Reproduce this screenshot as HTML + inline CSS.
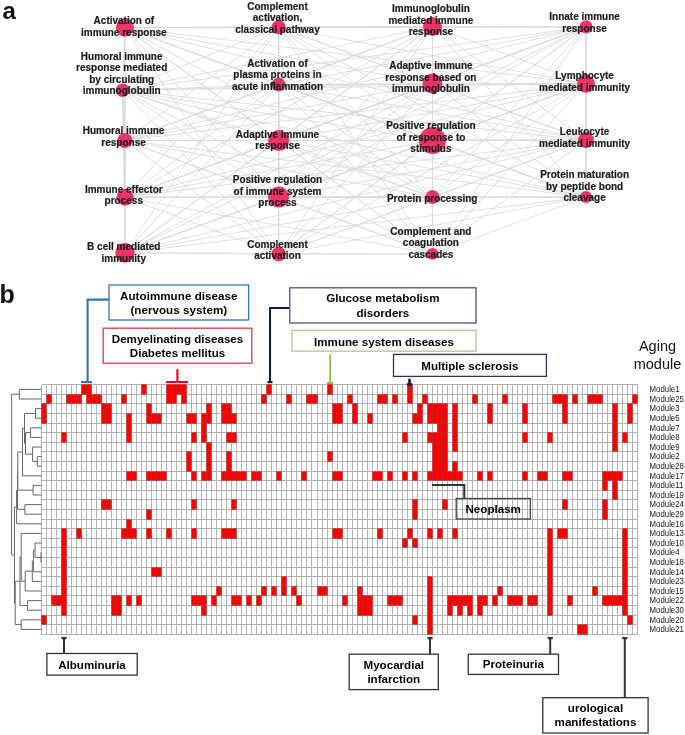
<!DOCTYPE html><html><head><meta charset="utf-8"><style>html,body{margin:0;padding:0;background:#fff;}svg{display:block;will-change:transform;}</style></head><body>
<svg width='685' height='735' viewBox='0 0 685 735' style='font-family:"Liberation Sans",sans-serif'>
<rect width="685" height="735" fill="#fff"/>
<g stroke="#d9d9d9" stroke-width="0.85" fill="none">
<line x1="124.9" y1="27.6" x2="122.6" y2="90.2"/>
<line x1="124.9" y1="27.6" x2="124.8" y2="140.5"/>
<line x1="124.9" y1="27.6" x2="125" y2="197.2"/>
<line x1="124.9" y1="27.6" x2="125" y2="252.8"/>
<line x1="124.9" y1="27.6" x2="278.6" y2="27.2"/>
<line x1="124.9" y1="27.6" x2="278.6" y2="84.6"/>
<line x1="124.9" y1="27.6" x2="278.6" y2="140.5"/>
<line x1="124.9" y1="27.6" x2="278.6" y2="197.1"/>
<line x1="124.9" y1="27.6" x2="278.6" y2="254.2"/>
<line x1="124.9" y1="27.6" x2="432.5" y2="26.6"/>
<line x1="124.9" y1="27.6" x2="432.5" y2="83.5"/>
<line x1="124.9" y1="27.6" x2="432.5" y2="140.5"/>
<line x1="124.9" y1="27.6" x2="432.5" y2="197.1"/>
<line x1="124.9" y1="27.6" x2="432.5" y2="253.8"/>
<line x1="124.9" y1="27.6" x2="586" y2="26.9"/>
<line x1="124.9" y1="27.6" x2="586" y2="83.8"/>
<line x1="124.9" y1="27.6" x2="586" y2="140.1"/>
<line x1="124.9" y1="27.6" x2="586" y2="197"/>
<line x1="122.6" y1="90.2" x2="124.8" y2="140.5"/>
<line x1="122.6" y1="90.2" x2="125" y2="197.2"/>
<line x1="122.6" y1="90.2" x2="125" y2="252.8"/>
<line x1="122.6" y1="90.2" x2="278.6" y2="27.2"/>
<line x1="122.6" y1="90.2" x2="278.6" y2="84.6"/>
<line x1="122.6" y1="90.2" x2="278.6" y2="140.5"/>
<line x1="122.6" y1="90.2" x2="278.6" y2="197.1"/>
<line x1="122.6" y1="90.2" x2="278.6" y2="254.2"/>
<line x1="122.6" y1="90.2" x2="432.5" y2="26.6"/>
<line x1="122.6" y1="90.2" x2="432.5" y2="83.5"/>
<line x1="122.6" y1="90.2" x2="432.5" y2="140.5"/>
<line x1="122.6" y1="90.2" x2="432.5" y2="197.1"/>
<line x1="122.6" y1="90.2" x2="432.5" y2="253.8"/>
<line x1="122.6" y1="90.2" x2="586" y2="26.9"/>
<line x1="122.6" y1="90.2" x2="586" y2="83.8"/>
<line x1="122.6" y1="90.2" x2="586" y2="140.1"/>
<line x1="122.6" y1="90.2" x2="586" y2="197"/>
<line x1="124.8" y1="140.5" x2="125" y2="197.2"/>
<line x1="124.8" y1="140.5" x2="125" y2="252.8"/>
<line x1="124.8" y1="140.5" x2="278.6" y2="27.2"/>
<line x1="124.8" y1="140.5" x2="278.6" y2="84.6"/>
<line x1="124.8" y1="140.5" x2="278.6" y2="140.5"/>
<line x1="124.8" y1="140.5" x2="278.6" y2="197.1"/>
<line x1="124.8" y1="140.5" x2="278.6" y2="254.2"/>
<line x1="124.8" y1="140.5" x2="432.5" y2="26.6"/>
<line x1="124.8" y1="140.5" x2="432.5" y2="83.5"/>
<line x1="124.8" y1="140.5" x2="432.5" y2="140.5"/>
<line x1="124.8" y1="140.5" x2="432.5" y2="197.1"/>
<line x1="124.8" y1="140.5" x2="432.5" y2="253.8"/>
<line x1="124.8" y1="140.5" x2="586" y2="26.9"/>
<line x1="124.8" y1="140.5" x2="586" y2="83.8"/>
<line x1="124.8" y1="140.5" x2="586" y2="140.1"/>
<line x1="124.8" y1="140.5" x2="586" y2="197"/>
<line x1="125" y1="197.2" x2="125" y2="252.8"/>
<line x1="125" y1="197.2" x2="278.6" y2="27.2"/>
<line x1="125" y1="197.2" x2="278.6" y2="84.6"/>
<line x1="125" y1="197.2" x2="278.6" y2="140.5"/>
<line x1="125" y1="197.2" x2="278.6" y2="197.1"/>
<line x1="125" y1="197.2" x2="278.6" y2="254.2"/>
<line x1="125" y1="197.2" x2="432.5" y2="26.6"/>
<line x1="125" y1="197.2" x2="432.5" y2="83.5"/>
<line x1="125" y1="197.2" x2="432.5" y2="140.5"/>
<line x1="125" y1="197.2" x2="432.5" y2="197.1"/>
<line x1="125" y1="197.2" x2="432.5" y2="253.8"/>
<line x1="125" y1="197.2" x2="586" y2="26.9"/>
<line x1="125" y1="197.2" x2="586" y2="83.8"/>
<line x1="125" y1="197.2" x2="586" y2="140.1"/>
<line x1="125" y1="197.2" x2="586" y2="197"/>
<line x1="125" y1="252.8" x2="278.6" y2="27.2"/>
<line x1="125" y1="252.8" x2="278.6" y2="84.6"/>
<line x1="125" y1="252.8" x2="278.6" y2="140.5"/>
<line x1="125" y1="252.8" x2="278.6" y2="197.1"/>
<line x1="125" y1="252.8" x2="278.6" y2="254.2"/>
<line x1="125" y1="252.8" x2="432.5" y2="26.6"/>
<line x1="125" y1="252.8" x2="432.5" y2="83.5"/>
<line x1="125" y1="252.8" x2="432.5" y2="140.5"/>
<line x1="125" y1="252.8" x2="432.5" y2="197.1"/>
<line x1="125" y1="252.8" x2="432.5" y2="253.8"/>
<line x1="125" y1="252.8" x2="586" y2="26.9"/>
<line x1="125" y1="252.8" x2="586" y2="83.8"/>
<line x1="125" y1="252.8" x2="586" y2="140.1"/>
<line x1="125" y1="252.8" x2="586" y2="197"/>
<line x1="278.6" y1="27.2" x2="278.6" y2="84.6"/>
<line x1="278.6" y1="27.2" x2="278.6" y2="140.5"/>
<line x1="278.6" y1="27.2" x2="278.6" y2="197.1"/>
<line x1="278.6" y1="27.2" x2="278.6" y2="254.2"/>
<line x1="278.6" y1="27.2" x2="432.5" y2="26.6"/>
<line x1="278.6" y1="27.2" x2="432.5" y2="83.5"/>
<line x1="278.6" y1="27.2" x2="432.5" y2="140.5"/>
<line x1="278.6" y1="27.2" x2="432.5" y2="197.1"/>
<line x1="278.6" y1="27.2" x2="432.5" y2="253.8"/>
<line x1="278.6" y1="27.2" x2="586" y2="26.9"/>
<line x1="278.6" y1="27.2" x2="586" y2="83.8"/>
<line x1="278.6" y1="27.2" x2="586" y2="140.1"/>
<line x1="278.6" y1="27.2" x2="586" y2="197"/>
<line x1="278.6" y1="84.6" x2="278.6" y2="140.5"/>
<line x1="278.6" y1="84.6" x2="278.6" y2="197.1"/>
<line x1="278.6" y1="84.6" x2="278.6" y2="254.2"/>
<line x1="278.6" y1="84.6" x2="432.5" y2="26.6"/>
<line x1="278.6" y1="84.6" x2="432.5" y2="83.5"/>
<line x1="278.6" y1="84.6" x2="432.5" y2="140.5"/>
<line x1="278.6" y1="84.6" x2="432.5" y2="197.1"/>
<line x1="278.6" y1="84.6" x2="432.5" y2="253.8"/>
<line x1="278.6" y1="84.6" x2="586" y2="26.9"/>
<line x1="278.6" y1="84.6" x2="586" y2="83.8"/>
<line x1="278.6" y1="84.6" x2="586" y2="140.1"/>
<line x1="278.6" y1="84.6" x2="586" y2="197"/>
<line x1="278.6" y1="140.5" x2="278.6" y2="197.1"/>
<line x1="278.6" y1="140.5" x2="278.6" y2="254.2"/>
<line x1="278.6" y1="140.5" x2="432.5" y2="26.6"/>
<line x1="278.6" y1="140.5" x2="432.5" y2="83.5"/>
<line x1="278.6" y1="140.5" x2="432.5" y2="140.5"/>
<line x1="278.6" y1="140.5" x2="432.5" y2="197.1"/>
<line x1="278.6" y1="140.5" x2="432.5" y2="253.8"/>
<line x1="278.6" y1="140.5" x2="586" y2="26.9"/>
<line x1="278.6" y1="140.5" x2="586" y2="83.8"/>
<line x1="278.6" y1="140.5" x2="586" y2="140.1"/>
<line x1="278.6" y1="140.5" x2="586" y2="197"/>
<line x1="278.6" y1="197.1" x2="278.6" y2="254.2"/>
<line x1="278.6" y1="197.1" x2="432.5" y2="26.6"/>
<line x1="278.6" y1="197.1" x2="432.5" y2="83.5"/>
<line x1="278.6" y1="197.1" x2="432.5" y2="140.5"/>
<line x1="278.6" y1="197.1" x2="432.5" y2="197.1"/>
<line x1="278.6" y1="197.1" x2="432.5" y2="253.8"/>
<line x1="278.6" y1="197.1" x2="586" y2="26.9"/>
<line x1="278.6" y1="197.1" x2="586" y2="83.8"/>
<line x1="278.6" y1="197.1" x2="586" y2="140.1"/>
<line x1="278.6" y1="197.1" x2="586" y2="197"/>
<line x1="278.6" y1="254.2" x2="432.5" y2="26.6"/>
<line x1="278.6" y1="254.2" x2="432.5" y2="83.5"/>
<line x1="278.6" y1="254.2" x2="432.5" y2="140.5"/>
<line x1="278.6" y1="254.2" x2="432.5" y2="197.1"/>
<line x1="278.6" y1="254.2" x2="432.5" y2="253.8"/>
<line x1="278.6" y1="254.2" x2="586" y2="26.9"/>
<line x1="278.6" y1="254.2" x2="586" y2="83.8"/>
<line x1="278.6" y1="254.2" x2="586" y2="140.1"/>
<line x1="278.6" y1="254.2" x2="586" y2="197"/>
<line x1="432.5" y1="26.6" x2="432.5" y2="83.5"/>
<line x1="432.5" y1="26.6" x2="432.5" y2="140.5"/>
<line x1="432.5" y1="26.6" x2="432.5" y2="197.1"/>
<line x1="432.5" y1="26.6" x2="432.5" y2="253.8"/>
<line x1="432.5" y1="26.6" x2="586" y2="26.9"/>
<line x1="432.5" y1="26.6" x2="586" y2="83.8"/>
<line x1="432.5" y1="26.6" x2="586" y2="140.1"/>
<line x1="432.5" y1="26.6" x2="586" y2="197"/>
<line x1="432.5" y1="83.5" x2="432.5" y2="140.5"/>
<line x1="432.5" y1="83.5" x2="432.5" y2="197.1"/>
<line x1="432.5" y1="83.5" x2="432.5" y2="253.8"/>
<line x1="432.5" y1="83.5" x2="586" y2="26.9"/>
<line x1="432.5" y1="83.5" x2="586" y2="83.8"/>
<line x1="432.5" y1="83.5" x2="586" y2="140.1"/>
<line x1="432.5" y1="83.5" x2="586" y2="197"/>
<line x1="432.5" y1="140.5" x2="432.5" y2="197.1"/>
<line x1="432.5" y1="140.5" x2="432.5" y2="253.8"/>
<line x1="432.5" y1="140.5" x2="586" y2="26.9"/>
<line x1="432.5" y1="140.5" x2="586" y2="83.8"/>
<line x1="432.5" y1="140.5" x2="586" y2="140.1"/>
<line x1="432.5" y1="140.5" x2="586" y2="197"/>
<line x1="432.5" y1="197.1" x2="432.5" y2="253.8"/>
<line x1="432.5" y1="197.1" x2="586" y2="26.9"/>
<line x1="432.5" y1="197.1" x2="586" y2="83.8"/>
<line x1="432.5" y1="197.1" x2="586" y2="140.1"/>
<line x1="432.5" y1="197.1" x2="586" y2="197"/>
<line x1="432.5" y1="253.8" x2="586" y2="26.9"/>
<line x1="432.5" y1="253.8" x2="586" y2="83.8"/>
<line x1="432.5" y1="253.8" x2="586" y2="140.1"/>
<line x1="432.5" y1="253.8" x2="586" y2="197"/>
<line x1="586" y1="26.9" x2="586" y2="83.8"/>
<line x1="586" y1="26.9" x2="586" y2="140.1"/>
<line x1="586" y1="26.9" x2="586" y2="197"/>
<line x1="586" y1="83.8" x2="586" y2="140.1"/>
<line x1="586" y1="83.8" x2="586" y2="197"/>
<line x1="586" y1="140.1" x2="586" y2="197"/>
</g>
<g fill="#ee3366">
<circle cx="124.9" cy="27.6" r="9.0"/>
<circle cx="122.6" cy="90.2" r="6.8"/>
<circle cx="124.8" cy="140.5" r="7.6"/>
<circle cx="125" cy="197.2" r="8.5"/>
<circle cx="125" cy="252.8" r="9.7"/>
<circle cx="278.6" cy="27.2" r="7"/>
<circle cx="278.6" cy="84.6" r="7"/>
<circle cx="278.6" cy="140.5" r="10.5"/>
<circle cx="278.6" cy="197.1" r="10.5"/>
<circle cx="278.6" cy="254.2" r="7.2"/>
<circle cx="432.5" cy="26.6" r="9.5"/>
<circle cx="432.5" cy="83.5" r="9.9"/>
<circle cx="432.5" cy="140.5" r="13.5"/>
<circle cx="432.5" cy="197.1" r="7"/>
<circle cx="432.5" cy="253.8" r="5.9"/>
<circle cx="586" cy="26.9" r="6.6"/>
<circle cx="586" cy="83.8" r="9"/>
<circle cx="586" cy="140.1" r="8"/>
<circle cx="586" cy="197" r="6"/>
</g>
<g font-size="10" font-weight="bold" fill="#1a1a1a" stroke="#1a1a1a" stroke-width="0.18" text-anchor="middle">
<text x="123.9" y="23.9">Activation of</text>
<text x="123.9" y="35.5">immune response</text>
<text x="121.7" y="59.6">Humoral immune</text>
<text x="121.7" y="71.2">response mediated</text>
<text x="121.7" y="82.8">by circulating</text>
<text x="121.7" y="94.4">immunoglobulin</text>
<text x="123.6" y="134.4">Humoral immune</text>
<text x="123.6" y="146.0">response</text>
<text x="123.8" y="192.6">Immune effector</text>
<text x="123.8" y="204.2">process</text>
<text x="123.8" y="249.9">B cell mediated</text>
<text x="123.8" y="261.5">immunity</text>
<text x="277.5" y="9.5">Complement</text>
<text x="277.5" y="21.1">activation,</text>
<text x="277.5" y="32.7">classical pathway</text>
<text x="277.5" y="66.6">Activation of</text>
<text x="277.5" y="78.2">plasma proteins in</text>
<text x="277.5" y="89.8">acute inflammation</text>
<text x="277.5" y="137.6">Adaptive immune</text>
<text x="277.5" y="149.2">response</text>
<text x="277.5" y="182.9">Positive regulation</text>
<text x="277.5" y="194.5">of immune system</text>
<text x="277.5" y="206.1">process</text>
<text x="277.5" y="247.6">Complement</text>
<text x="277.5" y="259.2">activation</text>
<text x="430.9" y="12.1">Immunoglobulin</text>
<text x="430.9" y="23.7">mediated immune</text>
<text x="430.9" y="35.3">response</text>
<text x="430.9" y="69.1">Adaptive immune</text>
<text x="430.9" y="80.7">response based on</text>
<text x="430.9" y="92.3">immunoglobulin</text>
<text x="430.9" y="128.9">Positive regulation</text>
<text x="430.9" y="140.5">of response to</text>
<text x="430.9" y="152.1">stimulus</text>
<text x="432.2" y="201.8">Protein processing</text>
<text x="430.9" y="234.5">Complement and</text>
<text x="430.9" y="246.1">coagulation</text>
<text x="430.9" y="257.7">cascades</text>
<text x="584.6" y="20.1">Innate immune</text>
<text x="584.6" y="31.7">response</text>
<text x="584.6" y="79.3">Lymphocyte</text>
<text x="584.6" y="90.9">mediated immunity</text>
<text x="584.6" y="135.3">Leukocyte</text>
<text x="584.6" y="146.9">mediated immunity</text>
<text x="584.6" y="177.9">Protein maturation</text>
<text x="584.6" y="189.5">by peptide bond</text>
<text x="584.6" y="201.1">cleavage</text>
</g>
<text x="2.5" y="18.6" font-size="24" font-weight="bold" fill="#111">a</text>
<text x="-0.6" y="302.6" font-size="25" font-weight="bold" fill="#111">b</text>
<g fill="#ff0000"><rect x="81.5" y="384.5" width="5.0" height="10.0"/><rect x="86.5" y="384.5" width="5.0" height="10.0"/><rect x="141.5" y="384.5" width="5.0" height="10.0"/><rect x="166.5" y="384.5" width="5.0" height="10.0"/><rect x="171.5" y="384.5" width="5.0" height="10.0"/><rect x="176.5" y="384.5" width="5.0" height="10.0"/><rect x="181.5" y="384.5" width="5.0" height="10.0"/><rect x="266.5" y="384.5" width="5.0" height="10.0"/><rect x="327.5" y="384.5" width="5.0" height="10.0"/><rect x="407.5" y="384.5" width="5.0" height="10.0"/><rect x="46.5" y="394.5" width="5.0" height="9.0"/><rect x="66.5" y="394.5" width="5.0" height="9.0"/><rect x="71.5" y="394.5" width="5.0" height="9.0"/><rect x="76.5" y="394.5" width="5.0" height="9.0"/><rect x="86.5" y="394.5" width="5.0" height="9.0"/><rect x="91.5" y="394.5" width="5.0" height="9.0"/><rect x="96.5" y="394.5" width="5.0" height="9.0"/><rect x="121.5" y="394.5" width="5.0" height="9.0"/><rect x="166.5" y="394.5" width="5.0" height="9.0"/><rect x="171.5" y="394.5" width="5.0" height="9.0"/><rect x="181.5" y="394.5" width="5.0" height="9.0"/><rect x="261.5" y="394.5" width="5.0" height="9.0"/><rect x="286.5" y="394.5" width="5.0" height="9.0"/><rect x="306.5" y="394.5" width="5.0" height="9.0"/><rect x="311.5" y="394.5" width="6.0" height="9.0"/><rect x="347.5" y="394.5" width="5.0" height="9.0"/><rect x="377.5" y="394.5" width="5.0" height="9.0"/><rect x="382.5" y="394.5" width="5.0" height="9.0"/><rect x="392.5" y="394.5" width="5.0" height="9.0"/><rect x="407.5" y="394.5" width="5.0" height="9.0"/><rect x="422.5" y="394.5" width="5.0" height="9.0"/><rect x="472.5" y="394.5" width="5.0" height="9.0"/><rect x="502.5" y="394.5" width="5.0" height="9.0"/><rect x="552.5" y="394.5" width="5.0" height="9.0"/><rect x="557.5" y="394.5" width="5.0" height="9.0"/><rect x="562.5" y="394.5" width="5.0" height="9.0"/><rect x="572.5" y="394.5" width="5.0" height="9.0"/><rect x="587.5" y="394.5" width="5.0" height="9.0"/><rect x="592.5" y="394.5" width="5.0" height="9.0"/><rect x="597.5" y="394.5" width="5.0" height="9.0"/><rect x="632.5" y="394.5" width="5.0" height="9.0"/><rect x="41.5" y="403.5" width="5.0" height="10.0"/><rect x="101.5" y="403.5" width="5.0" height="10.0"/><rect x="106.5" y="403.5" width="5.0" height="10.0"/><rect x="146.5" y="403.5" width="5.0" height="10.0"/><rect x="206.5" y="403.5" width="5.0" height="10.0"/><rect x="221.5" y="403.5" width="5.0" height="10.0"/><rect x="226.5" y="403.5" width="5.0" height="10.0"/><rect x="332.5" y="403.5" width="5.0" height="10.0"/><rect x="337.5" y="403.5" width="5.0" height="10.0"/><rect x="352.5" y="403.5" width="5.0" height="10.0"/><rect x="417.5" y="403.5" width="5.0" height="10.0"/><rect x="427.5" y="403.5" width="5.0" height="10.0"/><rect x="432.5" y="403.5" width="5.0" height="10.0"/><rect x="437.5" y="403.5" width="5.0" height="10.0"/><rect x="442.5" y="403.5" width="5.0" height="10.0"/><rect x="452.5" y="403.5" width="5.0" height="10.0"/><rect x="487.5" y="403.5" width="5.0" height="10.0"/><rect x="522.5" y="403.5" width="5.0" height="10.0"/><rect x="562.5" y="403.5" width="5.0" height="10.0"/><rect x="612.5" y="403.5" width="5.0" height="10.0"/><rect x="627.5" y="403.5" width="5.0" height="10.0"/><rect x="41.5" y="413.5" width="5.0" height="10.0"/><rect x="101.5" y="413.5" width="5.0" height="10.0"/><rect x="106.5" y="413.5" width="5.0" height="10.0"/><rect x="126.5" y="413.5" width="5.0" height="10.0"/><rect x="146.5" y="413.5" width="5.0" height="10.0"/><rect x="151.5" y="413.5" width="5.0" height="10.0"/><rect x="156.5" y="413.5" width="5.0" height="10.0"/><rect x="186.5" y="413.5" width="5.0" height="10.0"/><rect x="191.5" y="413.5" width="5.0" height="10.0"/><rect x="201.5" y="413.5" width="5.0" height="10.0"/><rect x="206.5" y="413.5" width="5.0" height="10.0"/><rect x="221.5" y="413.5" width="5.0" height="10.0"/><rect x="226.5" y="413.5" width="5.0" height="10.0"/><rect x="231.5" y="413.5" width="5.0" height="10.0"/><rect x="332.5" y="413.5" width="5.0" height="10.0"/><rect x="337.5" y="413.5" width="5.0" height="10.0"/><rect x="352.5" y="413.5" width="5.0" height="10.0"/><rect x="367.5" y="413.5" width="5.0" height="10.0"/><rect x="412.5" y="413.5" width="5.0" height="10.0"/><rect x="417.5" y="413.5" width="5.0" height="10.0"/><rect x="427.5" y="413.5" width="5.0" height="10.0"/><rect x="432.5" y="413.5" width="5.0" height="10.0"/><rect x="437.5" y="413.5" width="5.0" height="10.0"/><rect x="442.5" y="413.5" width="5.0" height="10.0"/><rect x="452.5" y="413.5" width="5.0" height="10.0"/><rect x="487.5" y="413.5" width="5.0" height="10.0"/><rect x="522.5" y="413.5" width="5.0" height="10.0"/><rect x="562.5" y="413.5" width="5.0" height="10.0"/><rect x="612.5" y="413.5" width="5.0" height="10.0"/><rect x="627.5" y="413.5" width="5.0" height="10.0"/><rect x="126.5" y="423.5" width="5.0" height="9.0"/><rect x="201.5" y="423.5" width="5.0" height="9.0"/><rect x="437.5" y="423.5" width="5.0" height="9.0"/><rect x="442.5" y="423.5" width="5.0" height="9.0"/><rect x="452.5" y="423.5" width="5.0" height="9.0"/><rect x="612.5" y="423.5" width="5.0" height="9.0"/><rect x="61.5" y="432.5" width="5.0" height="10.0"/><rect x="126.5" y="432.5" width="5.0" height="10.0"/><rect x="191.5" y="432.5" width="5.0" height="10.0"/><rect x="201.5" y="432.5" width="5.0" height="10.0"/><rect x="226.5" y="432.5" width="5.0" height="10.0"/><rect x="231.5" y="432.5" width="5.0" height="10.0"/><rect x="402.5" y="432.5" width="5.0" height="10.0"/><rect x="427.5" y="432.5" width="5.0" height="10.0"/><rect x="432.5" y="432.5" width="5.0" height="10.0"/><rect x="437.5" y="432.5" width="5.0" height="10.0"/><rect x="442.5" y="432.5" width="5.0" height="10.0"/><rect x="452.5" y="432.5" width="5.0" height="10.0"/><rect x="522.5" y="432.5" width="5.0" height="10.0"/><rect x="547.5" y="432.5" width="5.0" height="10.0"/><rect x="612.5" y="432.5" width="5.0" height="10.0"/><rect x="622.5" y="432.5" width="5.0" height="10.0"/><rect x="206.5" y="442.5" width="5.0" height="9.0"/><rect x="432.5" y="442.5" width="5.0" height="9.0"/><rect x="437.5" y="442.5" width="5.0" height="9.0"/><rect x="442.5" y="442.5" width="5.0" height="9.0"/><rect x="452.5" y="442.5" width="5.0" height="9.0"/><rect x="612.5" y="442.5" width="5.0" height="9.0"/><rect x="186.5" y="451.5" width="5.0" height="10.0"/><rect x="206.5" y="451.5" width="5.0" height="10.0"/><rect x="226.5" y="451.5" width="5.0" height="10.0"/><rect x="327.5" y="451.5" width="5.0" height="10.0"/><rect x="432.5" y="451.5" width="5.0" height="10.0"/><rect x="437.5" y="451.5" width="5.0" height="10.0"/><rect x="442.5" y="451.5" width="5.0" height="10.0"/><rect x="186.5" y="461.5" width="5.0" height="10.0"/><rect x="206.5" y="461.5" width="5.0" height="10.0"/><rect x="226.5" y="461.5" width="5.0" height="10.0"/><rect x="432.5" y="461.5" width="5.0" height="10.0"/><rect x="437.5" y="461.5" width="5.0" height="10.0"/><rect x="442.5" y="461.5" width="5.0" height="10.0"/><rect x="452.5" y="461.5" width="5.0" height="10.0"/><rect x="126.5" y="471.5" width="5.0" height="9.0"/><rect x="131.5" y="471.5" width="5.0" height="9.0"/><rect x="146.5" y="471.5" width="5.0" height="9.0"/><rect x="151.5" y="471.5" width="5.0" height="9.0"/><rect x="156.5" y="471.5" width="5.0" height="9.0"/><rect x="161.5" y="471.5" width="5.0" height="9.0"/><rect x="191.5" y="471.5" width="5.0" height="9.0"/><rect x="201.5" y="471.5" width="5.0" height="9.0"/><rect x="206.5" y="471.5" width="5.0" height="9.0"/><rect x="221.5" y="471.5" width="5.0" height="9.0"/><rect x="226.5" y="471.5" width="5.0" height="9.0"/><rect x="231.5" y="471.5" width="5.0" height="9.0"/><rect x="236.5" y="471.5" width="5.0" height="9.0"/><rect x="241.5" y="471.5" width="5.0" height="9.0"/><rect x="251.5" y="471.5" width="5.0" height="9.0"/><rect x="256.5" y="471.5" width="5.0" height="9.0"/><rect x="276.5" y="471.5" width="5.0" height="9.0"/><rect x="301.5" y="471.5" width="5.0" height="9.0"/><rect x="332.5" y="471.5" width="5.0" height="9.0"/><rect x="337.5" y="471.5" width="5.0" height="9.0"/><rect x="372.5" y="471.5" width="5.0" height="9.0"/><rect x="377.5" y="471.5" width="5.0" height="9.0"/><rect x="387.5" y="471.5" width="5.0" height="9.0"/><rect x="402.5" y="471.5" width="5.0" height="9.0"/><rect x="412.5" y="471.5" width="5.0" height="9.0"/><rect x="427.5" y="471.5" width="5.0" height="9.0"/><rect x="432.5" y="471.5" width="5.0" height="9.0"/><rect x="437.5" y="471.5" width="5.0" height="9.0"/><rect x="442.5" y="471.5" width="5.0" height="9.0"/><rect x="447.5" y="471.5" width="5.0" height="9.0"/><rect x="452.5" y="471.5" width="5.0" height="9.0"/><rect x="457.5" y="471.5" width="5.0" height="9.0"/><rect x="477.5" y="471.5" width="5.0" height="9.0"/><rect x="487.5" y="471.5" width="5.0" height="9.0"/><rect x="522.5" y="471.5" width="5.0" height="9.0"/><rect x="537.5" y="471.5" width="5.0" height="9.0"/><rect x="542.5" y="471.5" width="5.0" height="9.0"/><rect x="562.5" y="471.5" width="5.0" height="9.0"/><rect x="567.5" y="471.5" width="5.0" height="9.0"/><rect x="602.5" y="471.5" width="5.0" height="9.0"/><rect x="607.5" y="471.5" width="5.0" height="9.0"/><rect x="612.5" y="471.5" width="5.0" height="9.0"/><rect x="617.5" y="471.5" width="5.0" height="9.0"/><rect x="602.5" y="480.5" width="5.0" height="10.0"/><rect x="612.5" y="480.5" width="5.0" height="10.0"/><rect x="612.5" y="490.5" width="5.0" height="9.0"/><rect x="101.5" y="499.5" width="5.0" height="10.0"/><rect x="106.5" y="499.5" width="5.0" height="10.0"/><rect x="191.5" y="499.5" width="5.0" height="10.0"/><rect x="231.5" y="499.5" width="5.0" height="10.0"/><rect x="412.5" y="499.5" width="5.0" height="10.0"/><rect x="442.5" y="499.5" width="5.0" height="10.0"/><rect x="562.5" y="499.5" width="5.0" height="10.0"/><rect x="602.5" y="499.5" width="5.0" height="10.0"/><rect x="146.5" y="509.5" width="5.0" height="10.0"/><rect x="412.5" y="509.5" width="5.0" height="10.0"/><rect x="602.5" y="509.5" width="5.0" height="10.0"/><rect x="126.5" y="519.5" width="5.0" height="9.0"/><rect x="61.5" y="528.5" width="5.0" height="10.0"/><rect x="76.5" y="528.5" width="5.0" height="10.0"/><rect x="121.5" y="528.5" width="5.0" height="10.0"/><rect x="126.5" y="528.5" width="5.0" height="10.0"/><rect x="131.5" y="528.5" width="5.0" height="10.0"/><rect x="146.5" y="528.5" width="5.0" height="10.0"/><rect x="166.5" y="528.5" width="5.0" height="10.0"/><rect x="191.5" y="528.5" width="5.0" height="10.0"/><rect x="221.5" y="528.5" width="5.0" height="10.0"/><rect x="226.5" y="528.5" width="5.0" height="10.0"/><rect x="231.5" y="528.5" width="5.0" height="10.0"/><rect x="332.5" y="528.5" width="5.0" height="10.0"/><rect x="337.5" y="528.5" width="5.0" height="10.0"/><rect x="377.5" y="528.5" width="5.0" height="10.0"/><rect x="407.5" y="528.5" width="5.0" height="10.0"/><rect x="427.5" y="528.5" width="5.0" height="10.0"/><rect x="437.5" y="528.5" width="5.0" height="10.0"/><rect x="452.5" y="528.5" width="5.0" height="10.0"/><rect x="547.5" y="528.5" width="5.0" height="10.0"/><rect x="557.5" y="528.5" width="5.0" height="10.0"/><rect x="562.5" y="528.5" width="5.0" height="10.0"/><rect x="622.5" y="528.5" width="5.0" height="10.0"/><rect x="61.5" y="538.5" width="5.0" height="9.0"/><rect x="402.5" y="538.5" width="5.0" height="9.0"/><rect x="412.5" y="538.5" width="5.0" height="9.0"/><rect x="547.5" y="538.5" width="5.0" height="9.0"/><rect x="622.5" y="538.5" width="5.0" height="9.0"/><rect x="61.5" y="547.5" width="5.0" height="10.0"/><rect x="547.5" y="547.5" width="5.0" height="10.0"/><rect x="622.5" y="547.5" width="5.0" height="10.0"/><rect x="61.5" y="557.5" width="5.0" height="10.0"/><rect x="547.5" y="557.5" width="5.0" height="10.0"/><rect x="622.5" y="557.5" width="5.0" height="10.0"/><rect x="61.5" y="567.5" width="5.0" height="9.0"/><rect x="151.5" y="567.5" width="5.0" height="9.0"/><rect x="156.5" y="567.5" width="5.0" height="9.0"/><rect x="547.5" y="567.5" width="5.0" height="9.0"/><rect x="622.5" y="567.5" width="5.0" height="9.0"/><rect x="61.5" y="576.5" width="5.0" height="10.0"/><rect x="281.5" y="576.5" width="5.0" height="10.0"/><rect x="427.5" y="576.5" width="5.0" height="10.0"/><rect x="547.5" y="576.5" width="5.0" height="10.0"/><rect x="622.5" y="576.5" width="5.0" height="10.0"/><rect x="61.5" y="586.5" width="5.0" height="9.0"/><rect x="216.5" y="586.5" width="5.0" height="9.0"/><rect x="261.5" y="586.5" width="5.0" height="9.0"/><rect x="271.5" y="586.5" width="5.0" height="9.0"/><rect x="281.5" y="586.5" width="5.0" height="9.0"/><rect x="291.5" y="586.5" width="5.0" height="9.0"/><rect x="317.5" y="586.5" width="5.0" height="9.0"/><rect x="322.5" y="586.5" width="5.0" height="9.0"/><rect x="357.5" y="586.5" width="5.0" height="9.0"/><rect x="427.5" y="586.5" width="5.0" height="9.0"/><rect x="497.5" y="586.5" width="5.0" height="9.0"/><rect x="547.5" y="586.5" width="5.0" height="9.0"/><rect x="592.5" y="586.5" width="5.0" height="9.0"/><rect x="622.5" y="586.5" width="5.0" height="9.0"/><rect x="51.5" y="595.5" width="5.0" height="10.0"/><rect x="56.5" y="595.5" width="5.0" height="10.0"/><rect x="61.5" y="595.5" width="5.0" height="10.0"/><rect x="111.5" y="595.5" width="5.0" height="10.0"/><rect x="116.5" y="595.5" width="5.0" height="10.0"/><rect x="126.5" y="595.5" width="5.0" height="10.0"/><rect x="136.5" y="595.5" width="5.0" height="10.0"/><rect x="191.5" y="595.5" width="5.0" height="10.0"/><rect x="196.5" y="595.5" width="5.0" height="10.0"/><rect x="201.5" y="595.5" width="5.0" height="10.0"/><rect x="211.5" y="595.5" width="5.0" height="10.0"/><rect x="231.5" y="595.5" width="5.0" height="10.0"/><rect x="236.5" y="595.5" width="5.0" height="10.0"/><rect x="246.5" y="595.5" width="5.0" height="10.0"/><rect x="256.5" y="595.5" width="5.0" height="10.0"/><rect x="296.5" y="595.5" width="5.0" height="10.0"/><rect x="342.5" y="595.5" width="5.0" height="10.0"/><rect x="357.5" y="595.5" width="5.0" height="10.0"/><rect x="362.5" y="595.5" width="5.0" height="10.0"/><rect x="367.5" y="595.5" width="5.0" height="10.0"/><rect x="387.5" y="595.5" width="5.0" height="10.0"/><rect x="392.5" y="595.5" width="5.0" height="10.0"/><rect x="397.5" y="595.5" width="5.0" height="10.0"/><rect x="427.5" y="595.5" width="5.0" height="10.0"/><rect x="447.5" y="595.5" width="5.0" height="10.0"/><rect x="452.5" y="595.5" width="5.0" height="10.0"/><rect x="457.5" y="595.5" width="5.0" height="10.0"/><rect x="462.5" y="595.5" width="5.0" height="10.0"/><rect x="467.5" y="595.5" width="5.0" height="10.0"/><rect x="477.5" y="595.5" width="5.0" height="10.0"/><rect x="482.5" y="595.5" width="5.0" height="10.0"/><rect x="492.5" y="595.5" width="5.0" height="10.0"/><rect x="507.5" y="595.5" width="5.0" height="10.0"/><rect x="512.5" y="595.5" width="5.0" height="10.0"/><rect x="517.5" y="595.5" width="5.0" height="10.0"/><rect x="527.5" y="595.5" width="5.0" height="10.0"/><rect x="532.5" y="595.5" width="5.0" height="10.0"/><rect x="547.5" y="595.5" width="5.0" height="10.0"/><rect x="567.5" y="595.5" width="5.0" height="10.0"/><rect x="602.5" y="595.5" width="5.0" height="10.0"/><rect x="607.5" y="595.5" width="5.0" height="10.0"/><rect x="612.5" y="595.5" width="5.0" height="10.0"/><rect x="617.5" y="595.5" width="5.0" height="10.0"/><rect x="622.5" y="595.5" width="5.0" height="10.0"/><rect x="61.5" y="605.5" width="5.0" height="10.0"/><rect x="111.5" y="605.5" width="5.0" height="10.0"/><rect x="116.5" y="605.5" width="5.0" height="10.0"/><rect x="201.5" y="605.5" width="5.0" height="10.0"/><rect x="357.5" y="605.5" width="5.0" height="10.0"/><rect x="362.5" y="605.5" width="5.0" height="10.0"/><rect x="367.5" y="605.5" width="5.0" height="10.0"/><rect x="427.5" y="605.5" width="5.0" height="10.0"/><rect x="447.5" y="605.5" width="5.0" height="10.0"/><rect x="457.5" y="605.5" width="5.0" height="10.0"/><rect x="467.5" y="605.5" width="5.0" height="10.0"/><rect x="477.5" y="605.5" width="5.0" height="10.0"/><rect x="547.5" y="605.5" width="5.0" height="10.0"/><rect x="622.5" y="605.5" width="5.0" height="10.0"/><rect x="41.5" y="615.5" width="5.0" height="9.0"/><rect x="412.5" y="615.5" width="5.0" height="9.0"/><rect x="427.5" y="615.5" width="5.0" height="9.0"/><rect x="627.5" y="615.5" width="5.0" height="9.0"/><rect x="427.5" y="624.5" width="5.0" height="10.0"/><rect x="577.5" y="624.5" width="5.0" height="10.0"/><rect x="582.5" y="624.5" width="5.0" height="10.0"/></g>
<path d="M41.5 384.5V634.5M46.5 384.5V634.5M51.5 384.5V634.5M56.5 384.5V634.5M61.5 384.5V634.5M66.5 384.5V634.5M71.5 384.5V634.5M76.5 384.5V634.5M81.5 384.5V634.5M86.5 384.5V634.5M91.5 384.5V634.5M96.5 384.5V634.5M101.5 384.5V634.5M106.5 384.5V634.5M111.5 384.5V634.5M116.5 384.5V634.5M121.5 384.5V634.5M126.5 384.5V634.5M131.5 384.5V634.5M136.5 384.5V634.5M141.5 384.5V634.5M146.5 384.5V634.5M151.5 384.5V634.5M156.5 384.5V634.5M161.5 384.5V634.5M166.5 384.5V634.5M171.5 384.5V634.5M176.5 384.5V634.5M181.5 384.5V634.5M186.5 384.5V634.5M191.5 384.5V634.5M196.5 384.5V634.5M201.5 384.5V634.5M206.5 384.5V634.5M211.5 384.5V634.5M216.5 384.5V634.5M221.5 384.5V634.5M226.5 384.5V634.5M231.5 384.5V634.5M236.5 384.5V634.5M241.5 384.5V634.5M246.5 384.5V634.5M251.5 384.5V634.5M256.5 384.5V634.5M261.5 384.5V634.5M266.5 384.5V634.5M271.5 384.5V634.5M276.5 384.5V634.5M281.5 384.5V634.5M286.5 384.5V634.5M291.5 384.5V634.5M296.5 384.5V634.5M301.5 384.5V634.5M306.5 384.5V634.5M311.5 384.5V634.5M317.5 384.5V634.5M322.5 384.5V634.5M327.5 384.5V634.5M332.5 384.5V634.5M337.5 384.5V634.5M342.5 384.5V634.5M347.5 384.5V634.5M352.5 384.5V634.5M357.5 384.5V634.5M362.5 384.5V634.5M367.5 384.5V634.5M372.5 384.5V634.5M377.5 384.5V634.5M382.5 384.5V634.5M387.5 384.5V634.5M392.5 384.5V634.5M397.5 384.5V634.5M402.5 384.5V634.5M407.5 384.5V634.5M412.5 384.5V634.5M417.5 384.5V634.5M422.5 384.5V634.5M427.5 384.5V634.5M432.5 384.5V634.5M437.5 384.5V634.5M442.5 384.5V634.5M447.5 384.5V634.5M452.5 384.5V634.5M457.5 384.5V634.5M462.5 384.5V634.5M467.5 384.5V634.5M472.5 384.5V634.5M477.5 384.5V634.5M482.5 384.5V634.5M487.5 384.5V634.5M492.5 384.5V634.5M497.5 384.5V634.5M502.5 384.5V634.5M507.5 384.5V634.5M512.5 384.5V634.5M517.5 384.5V634.5M522.5 384.5V634.5M527.5 384.5V634.5M532.5 384.5V634.5M537.5 384.5V634.5M542.5 384.5V634.5M547.5 384.5V634.5M552.5 384.5V634.5M557.5 384.5V634.5M562.5 384.5V634.5M567.5 384.5V634.5M572.5 384.5V634.5M577.5 384.5V634.5M582.5 384.5V634.5M587.5 384.5V634.5M592.5 384.5V634.5M597.5 384.5V634.5M602.5 384.5V634.5M607.5 384.5V634.5M612.5 384.5V634.5M617.5 384.5V634.5M622.5 384.5V634.5M627.5 384.5V634.5M632.5 384.5V634.5M637.5 384.5V634.5M41.5 384.5H637.5M41.5 394.5H637.5M41.5 403.5H637.5M41.5 413.5H637.5M41.5 423.5H637.5M41.5 432.5H637.5M41.5 442.5H637.5M41.5 451.5H637.5M41.5 461.5H637.5M41.5 471.5H637.5M41.5 480.5H637.5M41.5 490.5H637.5M41.5 499.5H637.5M41.5 509.5H637.5M41.5 519.5H637.5M41.5 528.5H637.5M41.5 538.5H637.5M41.5 547.5H637.5M41.5 557.5H637.5M41.5 567.5H637.5M41.5 576.5H637.5M41.5 586.5H637.5M41.5 595.5H637.5M41.5 605.5H637.5M41.5 615.5H637.5M41.5 624.5H637.5M41.5 634.5H637.5" stroke="rgba(0,0,0,0.3)" stroke-width="1" fill="none" shape-rendering="crispEdges"/>
<g fill="#ff0000" fill-opacity="0.35"><rect x="81.5" y="384.5" width="5.0" height="10.0"/><rect x="86.5" y="384.5" width="5.0" height="10.0"/><rect x="141.5" y="384.5" width="5.0" height="10.0"/><rect x="166.5" y="384.5" width="5.0" height="10.0"/><rect x="171.5" y="384.5" width="5.0" height="10.0"/><rect x="176.5" y="384.5" width="5.0" height="10.0"/><rect x="181.5" y="384.5" width="5.0" height="10.0"/><rect x="266.5" y="384.5" width="5.0" height="10.0"/><rect x="327.5" y="384.5" width="5.0" height="10.0"/><rect x="407.5" y="384.5" width="5.0" height="10.0"/><rect x="46.5" y="394.5" width="5.0" height="9.0"/><rect x="66.5" y="394.5" width="5.0" height="9.0"/><rect x="71.5" y="394.5" width="5.0" height="9.0"/><rect x="76.5" y="394.5" width="5.0" height="9.0"/><rect x="86.5" y="394.5" width="5.0" height="9.0"/><rect x="91.5" y="394.5" width="5.0" height="9.0"/><rect x="96.5" y="394.5" width="5.0" height="9.0"/><rect x="121.5" y="394.5" width="5.0" height="9.0"/><rect x="166.5" y="394.5" width="5.0" height="9.0"/><rect x="171.5" y="394.5" width="5.0" height="9.0"/><rect x="181.5" y="394.5" width="5.0" height="9.0"/><rect x="261.5" y="394.5" width="5.0" height="9.0"/><rect x="286.5" y="394.5" width="5.0" height="9.0"/><rect x="306.5" y="394.5" width="5.0" height="9.0"/><rect x="311.5" y="394.5" width="6.0" height="9.0"/><rect x="347.5" y="394.5" width="5.0" height="9.0"/><rect x="377.5" y="394.5" width="5.0" height="9.0"/><rect x="382.5" y="394.5" width="5.0" height="9.0"/><rect x="392.5" y="394.5" width="5.0" height="9.0"/><rect x="407.5" y="394.5" width="5.0" height="9.0"/><rect x="422.5" y="394.5" width="5.0" height="9.0"/><rect x="472.5" y="394.5" width="5.0" height="9.0"/><rect x="502.5" y="394.5" width="5.0" height="9.0"/><rect x="552.5" y="394.5" width="5.0" height="9.0"/><rect x="557.5" y="394.5" width="5.0" height="9.0"/><rect x="562.5" y="394.5" width="5.0" height="9.0"/><rect x="572.5" y="394.5" width="5.0" height="9.0"/><rect x="587.5" y="394.5" width="5.0" height="9.0"/><rect x="592.5" y="394.5" width="5.0" height="9.0"/><rect x="597.5" y="394.5" width="5.0" height="9.0"/><rect x="632.5" y="394.5" width="5.0" height="9.0"/><rect x="41.5" y="403.5" width="5.0" height="10.0"/><rect x="101.5" y="403.5" width="5.0" height="10.0"/><rect x="106.5" y="403.5" width="5.0" height="10.0"/><rect x="146.5" y="403.5" width="5.0" height="10.0"/><rect x="206.5" y="403.5" width="5.0" height="10.0"/><rect x="221.5" y="403.5" width="5.0" height="10.0"/><rect x="226.5" y="403.5" width="5.0" height="10.0"/><rect x="332.5" y="403.5" width="5.0" height="10.0"/><rect x="337.5" y="403.5" width="5.0" height="10.0"/><rect x="352.5" y="403.5" width="5.0" height="10.0"/><rect x="417.5" y="403.5" width="5.0" height="10.0"/><rect x="427.5" y="403.5" width="5.0" height="10.0"/><rect x="432.5" y="403.5" width="5.0" height="10.0"/><rect x="437.5" y="403.5" width="5.0" height="10.0"/><rect x="442.5" y="403.5" width="5.0" height="10.0"/><rect x="452.5" y="403.5" width="5.0" height="10.0"/><rect x="487.5" y="403.5" width="5.0" height="10.0"/><rect x="522.5" y="403.5" width="5.0" height="10.0"/><rect x="562.5" y="403.5" width="5.0" height="10.0"/><rect x="612.5" y="403.5" width="5.0" height="10.0"/><rect x="627.5" y="403.5" width="5.0" height="10.0"/><rect x="41.5" y="413.5" width="5.0" height="10.0"/><rect x="101.5" y="413.5" width="5.0" height="10.0"/><rect x="106.5" y="413.5" width="5.0" height="10.0"/><rect x="126.5" y="413.5" width="5.0" height="10.0"/><rect x="146.5" y="413.5" width="5.0" height="10.0"/><rect x="151.5" y="413.5" width="5.0" height="10.0"/><rect x="156.5" y="413.5" width="5.0" height="10.0"/><rect x="186.5" y="413.5" width="5.0" height="10.0"/><rect x="191.5" y="413.5" width="5.0" height="10.0"/><rect x="201.5" y="413.5" width="5.0" height="10.0"/><rect x="206.5" y="413.5" width="5.0" height="10.0"/><rect x="221.5" y="413.5" width="5.0" height="10.0"/><rect x="226.5" y="413.5" width="5.0" height="10.0"/><rect x="231.5" y="413.5" width="5.0" height="10.0"/><rect x="332.5" y="413.5" width="5.0" height="10.0"/><rect x="337.5" y="413.5" width="5.0" height="10.0"/><rect x="352.5" y="413.5" width="5.0" height="10.0"/><rect x="367.5" y="413.5" width="5.0" height="10.0"/><rect x="412.5" y="413.5" width="5.0" height="10.0"/><rect x="417.5" y="413.5" width="5.0" height="10.0"/><rect x="427.5" y="413.5" width="5.0" height="10.0"/><rect x="432.5" y="413.5" width="5.0" height="10.0"/><rect x="437.5" y="413.5" width="5.0" height="10.0"/><rect x="442.5" y="413.5" width="5.0" height="10.0"/><rect x="452.5" y="413.5" width="5.0" height="10.0"/><rect x="487.5" y="413.5" width="5.0" height="10.0"/><rect x="522.5" y="413.5" width="5.0" height="10.0"/><rect x="562.5" y="413.5" width="5.0" height="10.0"/><rect x="612.5" y="413.5" width="5.0" height="10.0"/><rect x="627.5" y="413.5" width="5.0" height="10.0"/><rect x="126.5" y="423.5" width="5.0" height="9.0"/><rect x="201.5" y="423.5" width="5.0" height="9.0"/><rect x="437.5" y="423.5" width="5.0" height="9.0"/><rect x="442.5" y="423.5" width="5.0" height="9.0"/><rect x="452.5" y="423.5" width="5.0" height="9.0"/><rect x="612.5" y="423.5" width="5.0" height="9.0"/><rect x="61.5" y="432.5" width="5.0" height="10.0"/><rect x="126.5" y="432.5" width="5.0" height="10.0"/><rect x="191.5" y="432.5" width="5.0" height="10.0"/><rect x="201.5" y="432.5" width="5.0" height="10.0"/><rect x="226.5" y="432.5" width="5.0" height="10.0"/><rect x="231.5" y="432.5" width="5.0" height="10.0"/><rect x="402.5" y="432.5" width="5.0" height="10.0"/><rect x="427.5" y="432.5" width="5.0" height="10.0"/><rect x="432.5" y="432.5" width="5.0" height="10.0"/><rect x="437.5" y="432.5" width="5.0" height="10.0"/><rect x="442.5" y="432.5" width="5.0" height="10.0"/><rect x="452.5" y="432.5" width="5.0" height="10.0"/><rect x="522.5" y="432.5" width="5.0" height="10.0"/><rect x="547.5" y="432.5" width="5.0" height="10.0"/><rect x="612.5" y="432.5" width="5.0" height="10.0"/><rect x="622.5" y="432.5" width="5.0" height="10.0"/><rect x="206.5" y="442.5" width="5.0" height="9.0"/><rect x="432.5" y="442.5" width="5.0" height="9.0"/><rect x="437.5" y="442.5" width="5.0" height="9.0"/><rect x="442.5" y="442.5" width="5.0" height="9.0"/><rect x="452.5" y="442.5" width="5.0" height="9.0"/><rect x="612.5" y="442.5" width="5.0" height="9.0"/><rect x="186.5" y="451.5" width="5.0" height="10.0"/><rect x="206.5" y="451.5" width="5.0" height="10.0"/><rect x="226.5" y="451.5" width="5.0" height="10.0"/><rect x="327.5" y="451.5" width="5.0" height="10.0"/><rect x="432.5" y="451.5" width="5.0" height="10.0"/><rect x="437.5" y="451.5" width="5.0" height="10.0"/><rect x="442.5" y="451.5" width="5.0" height="10.0"/><rect x="186.5" y="461.5" width="5.0" height="10.0"/><rect x="206.5" y="461.5" width="5.0" height="10.0"/><rect x="226.5" y="461.5" width="5.0" height="10.0"/><rect x="432.5" y="461.5" width="5.0" height="10.0"/><rect x="437.5" y="461.5" width="5.0" height="10.0"/><rect x="442.5" y="461.5" width="5.0" height="10.0"/><rect x="452.5" y="461.5" width="5.0" height="10.0"/><rect x="126.5" y="471.5" width="5.0" height="9.0"/><rect x="131.5" y="471.5" width="5.0" height="9.0"/><rect x="146.5" y="471.5" width="5.0" height="9.0"/><rect x="151.5" y="471.5" width="5.0" height="9.0"/><rect x="156.5" y="471.5" width="5.0" height="9.0"/><rect x="161.5" y="471.5" width="5.0" height="9.0"/><rect x="191.5" y="471.5" width="5.0" height="9.0"/><rect x="201.5" y="471.5" width="5.0" height="9.0"/><rect x="206.5" y="471.5" width="5.0" height="9.0"/><rect x="221.5" y="471.5" width="5.0" height="9.0"/><rect x="226.5" y="471.5" width="5.0" height="9.0"/><rect x="231.5" y="471.5" width="5.0" height="9.0"/><rect x="236.5" y="471.5" width="5.0" height="9.0"/><rect x="241.5" y="471.5" width="5.0" height="9.0"/><rect x="251.5" y="471.5" width="5.0" height="9.0"/><rect x="256.5" y="471.5" width="5.0" height="9.0"/><rect x="276.5" y="471.5" width="5.0" height="9.0"/><rect x="301.5" y="471.5" width="5.0" height="9.0"/><rect x="332.5" y="471.5" width="5.0" height="9.0"/><rect x="337.5" y="471.5" width="5.0" height="9.0"/><rect x="372.5" y="471.5" width="5.0" height="9.0"/><rect x="377.5" y="471.5" width="5.0" height="9.0"/><rect x="387.5" y="471.5" width="5.0" height="9.0"/><rect x="402.5" y="471.5" width="5.0" height="9.0"/><rect x="412.5" y="471.5" width="5.0" height="9.0"/><rect x="427.5" y="471.5" width="5.0" height="9.0"/><rect x="432.5" y="471.5" width="5.0" height="9.0"/><rect x="437.5" y="471.5" width="5.0" height="9.0"/><rect x="442.5" y="471.5" width="5.0" height="9.0"/><rect x="447.5" y="471.5" width="5.0" height="9.0"/><rect x="452.5" y="471.5" width="5.0" height="9.0"/><rect x="457.5" y="471.5" width="5.0" height="9.0"/><rect x="477.5" y="471.5" width="5.0" height="9.0"/><rect x="487.5" y="471.5" width="5.0" height="9.0"/><rect x="522.5" y="471.5" width="5.0" height="9.0"/><rect x="537.5" y="471.5" width="5.0" height="9.0"/><rect x="542.5" y="471.5" width="5.0" height="9.0"/><rect x="562.5" y="471.5" width="5.0" height="9.0"/><rect x="567.5" y="471.5" width="5.0" height="9.0"/><rect x="602.5" y="471.5" width="5.0" height="9.0"/><rect x="607.5" y="471.5" width="5.0" height="9.0"/><rect x="612.5" y="471.5" width="5.0" height="9.0"/><rect x="617.5" y="471.5" width="5.0" height="9.0"/><rect x="602.5" y="480.5" width="5.0" height="10.0"/><rect x="612.5" y="480.5" width="5.0" height="10.0"/><rect x="612.5" y="490.5" width="5.0" height="9.0"/><rect x="101.5" y="499.5" width="5.0" height="10.0"/><rect x="106.5" y="499.5" width="5.0" height="10.0"/><rect x="191.5" y="499.5" width="5.0" height="10.0"/><rect x="231.5" y="499.5" width="5.0" height="10.0"/><rect x="412.5" y="499.5" width="5.0" height="10.0"/><rect x="442.5" y="499.5" width="5.0" height="10.0"/><rect x="562.5" y="499.5" width="5.0" height="10.0"/><rect x="602.5" y="499.5" width="5.0" height="10.0"/><rect x="146.5" y="509.5" width="5.0" height="10.0"/><rect x="412.5" y="509.5" width="5.0" height="10.0"/><rect x="602.5" y="509.5" width="5.0" height="10.0"/><rect x="126.5" y="519.5" width="5.0" height="9.0"/><rect x="61.5" y="528.5" width="5.0" height="10.0"/><rect x="76.5" y="528.5" width="5.0" height="10.0"/><rect x="121.5" y="528.5" width="5.0" height="10.0"/><rect x="126.5" y="528.5" width="5.0" height="10.0"/><rect x="131.5" y="528.5" width="5.0" height="10.0"/><rect x="146.5" y="528.5" width="5.0" height="10.0"/><rect x="166.5" y="528.5" width="5.0" height="10.0"/><rect x="191.5" y="528.5" width="5.0" height="10.0"/><rect x="221.5" y="528.5" width="5.0" height="10.0"/><rect x="226.5" y="528.5" width="5.0" height="10.0"/><rect x="231.5" y="528.5" width="5.0" height="10.0"/><rect x="332.5" y="528.5" width="5.0" height="10.0"/><rect x="337.5" y="528.5" width="5.0" height="10.0"/><rect x="377.5" y="528.5" width="5.0" height="10.0"/><rect x="407.5" y="528.5" width="5.0" height="10.0"/><rect x="427.5" y="528.5" width="5.0" height="10.0"/><rect x="437.5" y="528.5" width="5.0" height="10.0"/><rect x="452.5" y="528.5" width="5.0" height="10.0"/><rect x="547.5" y="528.5" width="5.0" height="10.0"/><rect x="557.5" y="528.5" width="5.0" height="10.0"/><rect x="562.5" y="528.5" width="5.0" height="10.0"/><rect x="622.5" y="528.5" width="5.0" height="10.0"/><rect x="61.5" y="538.5" width="5.0" height="9.0"/><rect x="402.5" y="538.5" width="5.0" height="9.0"/><rect x="412.5" y="538.5" width="5.0" height="9.0"/><rect x="547.5" y="538.5" width="5.0" height="9.0"/><rect x="622.5" y="538.5" width="5.0" height="9.0"/><rect x="61.5" y="547.5" width="5.0" height="10.0"/><rect x="547.5" y="547.5" width="5.0" height="10.0"/><rect x="622.5" y="547.5" width="5.0" height="10.0"/><rect x="61.5" y="557.5" width="5.0" height="10.0"/><rect x="547.5" y="557.5" width="5.0" height="10.0"/><rect x="622.5" y="557.5" width="5.0" height="10.0"/><rect x="61.5" y="567.5" width="5.0" height="9.0"/><rect x="151.5" y="567.5" width="5.0" height="9.0"/><rect x="156.5" y="567.5" width="5.0" height="9.0"/><rect x="547.5" y="567.5" width="5.0" height="9.0"/><rect x="622.5" y="567.5" width="5.0" height="9.0"/><rect x="61.5" y="576.5" width="5.0" height="10.0"/><rect x="281.5" y="576.5" width="5.0" height="10.0"/><rect x="427.5" y="576.5" width="5.0" height="10.0"/><rect x="547.5" y="576.5" width="5.0" height="10.0"/><rect x="622.5" y="576.5" width="5.0" height="10.0"/><rect x="61.5" y="586.5" width="5.0" height="9.0"/><rect x="216.5" y="586.5" width="5.0" height="9.0"/><rect x="261.5" y="586.5" width="5.0" height="9.0"/><rect x="271.5" y="586.5" width="5.0" height="9.0"/><rect x="281.5" y="586.5" width="5.0" height="9.0"/><rect x="291.5" y="586.5" width="5.0" height="9.0"/><rect x="317.5" y="586.5" width="5.0" height="9.0"/><rect x="322.5" y="586.5" width="5.0" height="9.0"/><rect x="357.5" y="586.5" width="5.0" height="9.0"/><rect x="427.5" y="586.5" width="5.0" height="9.0"/><rect x="497.5" y="586.5" width="5.0" height="9.0"/><rect x="547.5" y="586.5" width="5.0" height="9.0"/><rect x="592.5" y="586.5" width="5.0" height="9.0"/><rect x="622.5" y="586.5" width="5.0" height="9.0"/><rect x="51.5" y="595.5" width="5.0" height="10.0"/><rect x="56.5" y="595.5" width="5.0" height="10.0"/><rect x="61.5" y="595.5" width="5.0" height="10.0"/><rect x="111.5" y="595.5" width="5.0" height="10.0"/><rect x="116.5" y="595.5" width="5.0" height="10.0"/><rect x="126.5" y="595.5" width="5.0" height="10.0"/><rect x="136.5" y="595.5" width="5.0" height="10.0"/><rect x="191.5" y="595.5" width="5.0" height="10.0"/><rect x="196.5" y="595.5" width="5.0" height="10.0"/><rect x="201.5" y="595.5" width="5.0" height="10.0"/><rect x="211.5" y="595.5" width="5.0" height="10.0"/><rect x="231.5" y="595.5" width="5.0" height="10.0"/><rect x="236.5" y="595.5" width="5.0" height="10.0"/><rect x="246.5" y="595.5" width="5.0" height="10.0"/><rect x="256.5" y="595.5" width="5.0" height="10.0"/><rect x="296.5" y="595.5" width="5.0" height="10.0"/><rect x="342.5" y="595.5" width="5.0" height="10.0"/><rect x="357.5" y="595.5" width="5.0" height="10.0"/><rect x="362.5" y="595.5" width="5.0" height="10.0"/><rect x="367.5" y="595.5" width="5.0" height="10.0"/><rect x="387.5" y="595.5" width="5.0" height="10.0"/><rect x="392.5" y="595.5" width="5.0" height="10.0"/><rect x="397.5" y="595.5" width="5.0" height="10.0"/><rect x="427.5" y="595.5" width="5.0" height="10.0"/><rect x="447.5" y="595.5" width="5.0" height="10.0"/><rect x="452.5" y="595.5" width="5.0" height="10.0"/><rect x="457.5" y="595.5" width="5.0" height="10.0"/><rect x="462.5" y="595.5" width="5.0" height="10.0"/><rect x="467.5" y="595.5" width="5.0" height="10.0"/><rect x="477.5" y="595.5" width="5.0" height="10.0"/><rect x="482.5" y="595.5" width="5.0" height="10.0"/><rect x="492.5" y="595.5" width="5.0" height="10.0"/><rect x="507.5" y="595.5" width="5.0" height="10.0"/><rect x="512.5" y="595.5" width="5.0" height="10.0"/><rect x="517.5" y="595.5" width="5.0" height="10.0"/><rect x="527.5" y="595.5" width="5.0" height="10.0"/><rect x="532.5" y="595.5" width="5.0" height="10.0"/><rect x="547.5" y="595.5" width="5.0" height="10.0"/><rect x="567.5" y="595.5" width="5.0" height="10.0"/><rect x="602.5" y="595.5" width="5.0" height="10.0"/><rect x="607.5" y="595.5" width="5.0" height="10.0"/><rect x="612.5" y="595.5" width="5.0" height="10.0"/><rect x="617.5" y="595.5" width="5.0" height="10.0"/><rect x="622.5" y="595.5" width="5.0" height="10.0"/><rect x="61.5" y="605.5" width="5.0" height="10.0"/><rect x="111.5" y="605.5" width="5.0" height="10.0"/><rect x="116.5" y="605.5" width="5.0" height="10.0"/><rect x="201.5" y="605.5" width="5.0" height="10.0"/><rect x="357.5" y="605.5" width="5.0" height="10.0"/><rect x="362.5" y="605.5" width="5.0" height="10.0"/><rect x="367.5" y="605.5" width="5.0" height="10.0"/><rect x="427.5" y="605.5" width="5.0" height="10.0"/><rect x="447.5" y="605.5" width="5.0" height="10.0"/><rect x="457.5" y="605.5" width="5.0" height="10.0"/><rect x="467.5" y="605.5" width="5.0" height="10.0"/><rect x="477.5" y="605.5" width="5.0" height="10.0"/><rect x="547.5" y="605.5" width="5.0" height="10.0"/><rect x="622.5" y="605.5" width="5.0" height="10.0"/><rect x="41.5" y="615.5" width="5.0" height="9.0"/><rect x="412.5" y="615.5" width="5.0" height="9.0"/><rect x="427.5" y="615.5" width="5.0" height="9.0"/><rect x="627.5" y="615.5" width="5.0" height="9.0"/><rect x="427.5" y="624.5" width="5.0" height="10.0"/><rect x="577.5" y="624.5" width="5.0" height="10.0"/><rect x="582.5" y="624.5" width="5.0" height="10.0"/></g>
<g font-size="8.4" fill="#151515">
<text transform="translate(649.6,392.10) scale(0.93,1)">Module1</text>
<text transform="translate(649.6,401.70) scale(0.93,1)">Module25</text>
<text transform="translate(649.6,411.30) scale(0.93,1)">Module3</text>
<text transform="translate(649.6,420.90) scale(0.93,1)">Module5</text>
<text transform="translate(649.6,430.50) scale(0.93,1)">Module7</text>
<text transform="translate(649.6,440.10) scale(0.93,1)">Module8</text>
<text transform="translate(649.6,449.70) scale(0.93,1)">Module9</text>
<text transform="translate(649.6,459.30) scale(0.93,1)">Module2</text>
<text transform="translate(649.6,468.90) scale(0.93,1)">Module28</text>
<text transform="translate(649.6,478.50) scale(0.93,1)">Module17</text>
<text transform="translate(649.6,488.10) scale(0.93,1)">Module11</text>
<text transform="translate(649.6,497.70) scale(0.93,1)">Module19</text>
<text transform="translate(649.6,507.30) scale(0.93,1)">Module24</text>
<text transform="translate(649.6,516.90) scale(0.93,1)">Module29</text>
<text transform="translate(649.6,526.50) scale(0.93,1)">Module16</text>
<text transform="translate(649.6,536.10) scale(0.93,1)">Module13</text>
<text transform="translate(649.6,545.70) scale(0.93,1)">Module10</text>
<text transform="translate(649.6,555.30) scale(0.93,1)">Module4</text>
<text transform="translate(649.6,564.90) scale(0.93,1)">Module18</text>
<text transform="translate(649.6,574.50) scale(0.93,1)">Module14</text>
<text transform="translate(649.6,584.10) scale(0.93,1)">Module23</text>
<text transform="translate(649.6,593.70) scale(0.93,1)">Module15</text>
<text transform="translate(649.6,603.30) scale(0.93,1)">Module22</text>
<text transform="translate(649.6,612.90) scale(0.93,1)">Module30</text>
<text transform="translate(649.6,622.50) scale(0.93,1)">Module20</text>
<text transform="translate(649.6,632.10) scale(0.93,1)">Module21</text>
</g>
<text x="657.5" y="351" font-size="14.5" fill="#111" text-anchor="middle">Aging</text>
<text x="657.5" y="369.3" font-size="14.5" fill="#111" text-anchor="middle">module</text>
<path d="M41.5 389.4H19.3V399.0H41.5M41.5 408.6H35.5V418.2H41.5M41.5 427.8H30.5V437.4H41.5M41.5 456.6H37.3V466.2H41.5M41.5 447.0H32.6V461.4H37.3M30.5 432.6H25.5V454.2H32.6M35.5 413.4H24.5V443.4H25.5M24.5 428.4H22.5V475.8H41.5M41.5 485.4H33.1V495.0H41.5M22.5 452.1H17.8V490.2H33.1M41.5 504.6H24.9V514.2H41.5M17.8 471.2H17.5V509.4H24.9M17.5 490.3H16.6V523.8H41.5M41.5 552.6H41.0V562.2H41.5M41.5 543.0H35.0V557.4H41.0M35.0 550.2H33.4V571.8H41.5M33.4 561.0H32.3V581.4H41.5M32.3 571.2H25.2V591.0H41.5M41.5 533.4H21.2V581.1H25.2M41.5 600.6H27.6V610.2H41.5M21.2 557.2H20.0V605.4H27.6M41.5 619.8H21.2V629.4H41.5M20.0 581.3H15.2V624.6H21.2M16.6 507.0H14.5V603.0H15.2M19.3 394.2H11.6V555.0H14.5" stroke="#666" stroke-width="1" fill="none"/>
<path d="M109 299.6H87.6V382" stroke="#2e75b6" stroke-width="2.1" fill="none"/>
<rect x="81" y="381.1" width="11" height="2.1" fill="#2e75b6"/>
<rect x="109" y="285" width="139.6" height="35.0" fill="#fff" stroke="#2e75b6" stroke-width="1.3"/>
<text x="178.8" y="299.8" font-size="11.6" font-weight="bold" fill="#000" letter-spacing="0.05" text-anchor="middle">Autoimmune disease</text>
<text x="178.8" y="313.8" font-size="11.6" font-weight="bold" fill="#000" letter-spacing="0.05" text-anchor="middle">(nervous system)</text>
<rect x="103.2" y="328.2" width="148.6" height="35.0" fill="#fff" stroke="#cf3f47" stroke-width="1.3"/>
<text x="177.5" y="343.2" font-size="11.6" font-weight="bold" fill="#000" letter-spacing="0.0" text-anchor="middle">Demyelinating diseases</text>
<text x="177.5" y="357.2" font-size="11.6" font-weight="bold" fill="#000" letter-spacing="0.0" text-anchor="middle">Diabetes mellitus</text>
<path d="M177.4 369.2V382" stroke="#e0101c" stroke-width="2.2" fill="none"/>
<rect x="166.1" y="381" width="21.9" height="2.1" fill="#d0101c"/>
<path d="M289.6 308.1H270V382" stroke="#0d1a4d" stroke-width="2" fill="none"/>
<rect x="267.5" y="381" width="5" height="2.2" fill="#0d1a4d"/>
<rect x="289.8" y="287.8" width="186.2" height="35.2" fill="#fff" stroke="#4a5173" stroke-width="1.3"/>
<text x="382.9" y="302.4" font-size="11.6" font-weight="bold" fill="#000" letter-spacing="0.0" text-anchor="middle">Glucose metabolism</text>
<text x="382.9" y="316.8" font-size="11.6" font-weight="bold" fill="#000" letter-spacing="0.0" text-anchor="middle">disorders</text>
<rect x="292" y="330.3" width="184.0" height="20.9" fill="#fff" stroke="#a9d18e" stroke-width="1.3"/>
<text x="384.0" y="345.5" font-size="11.6" font-weight="bold" fill="#000" letter-spacing="0.0" text-anchor="middle">Immune system diseases</text>
<path d="M330.2 354.6V383.4" stroke="#86bf4e" stroke-width="1.8" fill="none"/>
<rect x="327" y="382" width="6" height="2" fill="#86bf4e"/>
<rect x="393.5" y="354.4" width="152.9" height="22.0" fill="#fff" stroke="#2f3350" stroke-width="1.3"/>
<text x="469.9" y="369.8" font-size="11.6" font-weight="bold" fill="#000" letter-spacing="0.0" text-anchor="middle">Multiple sclerosis</text>
<path d="M409.5 378.8V384" stroke="#0d1a4d" stroke-width="2.6" fill="none"/>
<rect x="406.8" y="383.2" width="5.3" height="2.4" fill="#0d1a4d"/>
<path d="M432 485.1H464.3V498.4" stroke="#333" stroke-width="2" fill="none"/>
<rect x="456.2" y="498.5" width="74.1" height="20.5" fill="none" stroke="#444" stroke-width="1.3"/>
<text x="493.2" y="513.1" font-size="11.6" font-weight="bold" fill="#000" letter-spacing="0.0" text-anchor="middle">Neoplasm</text>
<path d="M64 638V653.5" stroke="#333" stroke-width="2" fill="none"/>
<rect x="61.4" y="637" width="5.2" height="2.2" fill="#333"/>
<rect x="46.9" y="653.5" width="90.3" height="21.6" fill="#fff" stroke="#333" stroke-width="1.3"/>
<text x="92.0" y="668.9" font-size="11.6" font-weight="bold" fill="#000" letter-spacing="0.0" text-anchor="middle">Albuminuria</text>
<path d="M430 638V654.2" stroke="#333" stroke-width="2" fill="none"/>
<rect x="427.4" y="637" width="5.2" height="2.2" fill="#333"/>
<rect x="349.2" y="654.2" width="89.1" height="35.4" fill="#fff" stroke="#333" stroke-width="1.3"/>
<text x="393.8" y="668.8" font-size="11.6" font-weight="bold" fill="#000" letter-spacing="0.0" text-anchor="middle">Myocardial</text>
<text x="393.8" y="682.7" font-size="11.6" font-weight="bold" fill="#000" letter-spacing="0.0" text-anchor="middle">infarction</text>
<path d="M550.2 638V654.2" stroke="#333" stroke-width="2" fill="none"/>
<rect x="547.6" y="637" width="5.2" height="2.2" fill="#333"/>
<rect x="468.3" y="654.2" width="90.2" height="20.2" fill="#fff" stroke="#333" stroke-width="1.3"/>
<text x="513.4" y="667.7" font-size="11.6" font-weight="bold" fill="#000" letter-spacing="0.0" text-anchor="middle">Proteinuria</text>
<path d="M624.8 638V697.7" stroke="#333" stroke-width="2" fill="none"/>
<rect x="622.1999999999999" y="637" width="5.2" height="2.2" fill="#333"/>
<rect x="542.8" y="697.7" width="105.3" height="35.3" fill="#fff" stroke="#333" stroke-width="1.3"/>
<text x="595.5" y="712.2" font-size="11.6" font-weight="bold" fill="#000" letter-spacing="0.0" text-anchor="middle">urological</text>
<text x="595.5" y="726.2" font-size="11.6" font-weight="bold" fill="#000" letter-spacing="0.0" text-anchor="middle">manifestations</text>
</svg></body></html>
